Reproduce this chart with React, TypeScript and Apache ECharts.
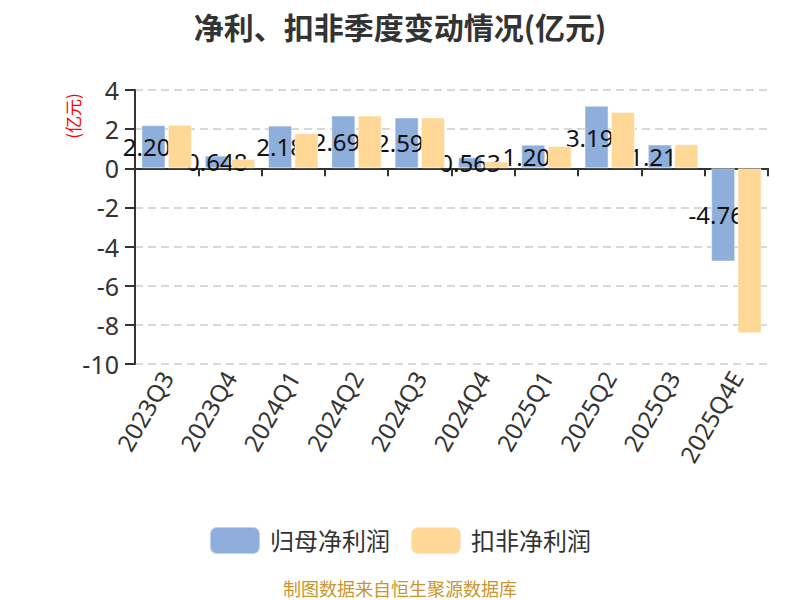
import React, { useEffect, useRef } from "react";
import * as echarts from "echarts";

const categories = ["2023Q3", "2023Q4", "2024Q1", "2024Q2", "2024Q3", "2024Q4", "2025Q1", "2025Q2", "2025Q3", "2025Q4E"];
const netProfit = [2.203, 0.648, 2.18, 2.693, 2.593, 0.563, 1.203, 3.193, 1.213, -4.763];
const deductedProfit = [2.22, 0.48, 1.79, 2.7, 2.6, 0.34, 1.14, 2.88, 1.23, -8.43];
const seriesNames = ["归母净利润", "扣非净利润"];
const titleText = "净利、扣非季度变动情况(亿元)";
const unitText = "(亿元)";
const sourceText = "制图数据来自恒生聚源数据库";
const yMin = -10;
const yMax = 4;
const yInterval = 2;

const FONT = '"Noto Sans", "Noto Sans CJK SC", sans-serif';

export default function App() {
  const ref = useRef<HTMLDivElement>(null);
  useEffect(() => {
    if (!ref.current) return;
    const chart = echarts.init(ref.current, null, { renderer: "svg" });
    chart.setOption({
      animation: false,
      backgroundColor: "#ffffff",
      textStyle: { fontFamily: FONT },
      title: {
        text: titleText,
        left: "center",
        top: 6,
        textStyle: { fontSize: 30, fontWeight: "bold", color: "#333", fontFamily: '"Noto Sans CJK SC", sans-serif' },
      },
      legend: {
        data: seriesNames,
        left: "center",
        top: 521,
        itemWidth: 50,
        itemHeight: 27,
        itemGap: 20,
        textStyle: { fontSize: 24, color: "#333", padding: [0, 0, 0, 5] },
      },
      grid: { left: 135, right: 32, top: 90, bottom: 236, containLabel: false },
      xAxis: {
        type: "category",
        data: categories,
        axisLine: { onZero: true, lineStyle: { color: "#333", width: 2 } },
        axisTick: { show: true, length: 8, lineStyle: { color: "#333", width: 2 } },
        axisLabel: { rotate: 60, fontSize: 24, color: "#333", margin: 9, interval: 0 },
      },
      yAxis: {
        type: "value",
        min: yMin,
        max: yMax,
        interval: yInterval,
        axisLine: { show: true, lineStyle: { color: "#333", width: 2 } },
        axisTick: { show: true, length: 10, lineStyle: { color: "#333", width: 2 } },
        axisLabel: { fontSize: 25, color: "#333", margin: 16 },
        splitLine: { show: true, lineStyle: { color: "#ccc", type: [8, 5], width: 1.5 } },
      },
      graphic: [
        {
          type: "text",
          x: 72,
          y: 116,
          rotation: Math.PI / 2,
          style: {
            text: unitText,
            fill: "#ff0000",
            fontSize: 17,
            fontFamily: '"Noto Sans CJK SC", sans-serif',
            textAlign: "center",
            textVerticalAlign: "middle",
          },
        },
        {
          type: "text",
          x: 400,
          y: 588,
          style: {
            text: sourceText,
            fill: "#c9962e",
            fontSize: 18,
            fontFamily: '"Noto Sans CJK SC", sans-serif',
            textAlign: "center",
            textVerticalAlign: "middle",
          },
        },
      ],
      series: [
        {
          name: seriesNames[0],
          type: "bar",
          data: netProfit,
          barWidth: 24,
          barGap: "10%",
          z: 2,
          itemStyle: { color: "#8eaedb", borderColor: "rgba(255,255,255,0.45)", borderWidth: 1 },
          label: {
            show: true,
            position: "inside",
            color: "#111",
            fontSize: 24,
            formatter: (p: any) => String(p.value),
          },
        },
        {
          name: seriesNames[1],
          type: "bar",
          data: deductedProfit,
          barWidth: 24,
          barGap: "10%",
          z: 3,
          itemStyle: { color: "#ffd898", borderColor: "rgba(255,255,255,0.45)", borderWidth: 1 },
        },
      ],
    });
    return () => chart.dispose();
  }, []);
  return <div ref={ref} style={{ position: "fixed", left: 0, top: 0, width: 800, height: 600 }} />;
}
